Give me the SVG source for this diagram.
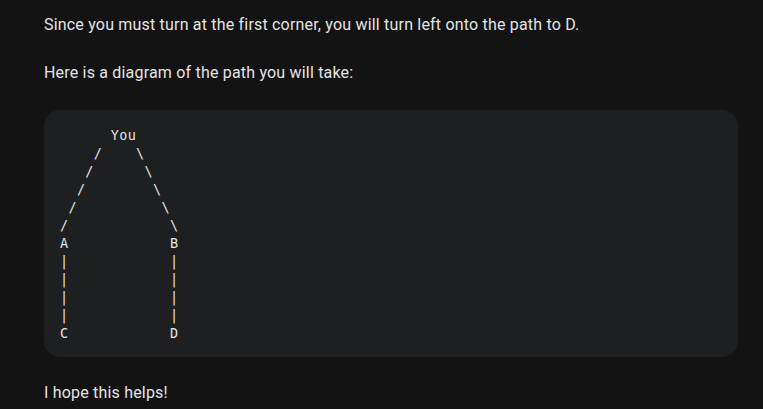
<svg xmlns="http://www.w3.org/2000/svg" width="763" height="409" viewBox="0 0 763 409">
<style>
.p{font-family:Roboto,"Liberation Sans",sans-serif;font-size:16px;letter-spacing:0.19px;fill:#e3e3e3}
.m{font-family:"DejaVu Sans Mono","Liberation Mono",monospace;font-size:13.5px;letter-spacing:0.33px;fill:#e3e3e3;white-space:pre}
</style>
<rect width="763" height="409" fill="#131314"/>
<text class="p" x="44" y="30">Since you must turn at the first corner, you will turn left onto the path to D.</text>
<text class="p" x="44" y="78">Here is a diagram of the path you will take:</text>
<g id="codeblock">
<rect x="44" y="110" width="694" height="247" rx="16" fill="#1e1f20"/>
</g>
<g id="diagram" xml:space="preserve">
<text class="m" x="60" y="140">      You</text>
<text class="m" x="60" y="158">    /    \</text>
<text class="m" x="60" y="176">   /      \</text>
<text class="m" x="60" y="194">  /        \</text>
<text class="m" x="60" y="212"> /          \</text>
<text class="m" x="60" y="230">/            \</text>
<text class="m" x="60" y="248">A            B</text>
<text class="m" x="60" y="266">|            |</text>
<text class="m" x="60" y="284">|            |</text>
<text class="m" x="60" y="302">|            |</text>
<text class="m" x="60" y="320">|            |</text>
<text class="m" x="60" y="338">C            D</text>
</g>
<text class="p" x="44" y="398">I hope this helps!</text>
</svg>
